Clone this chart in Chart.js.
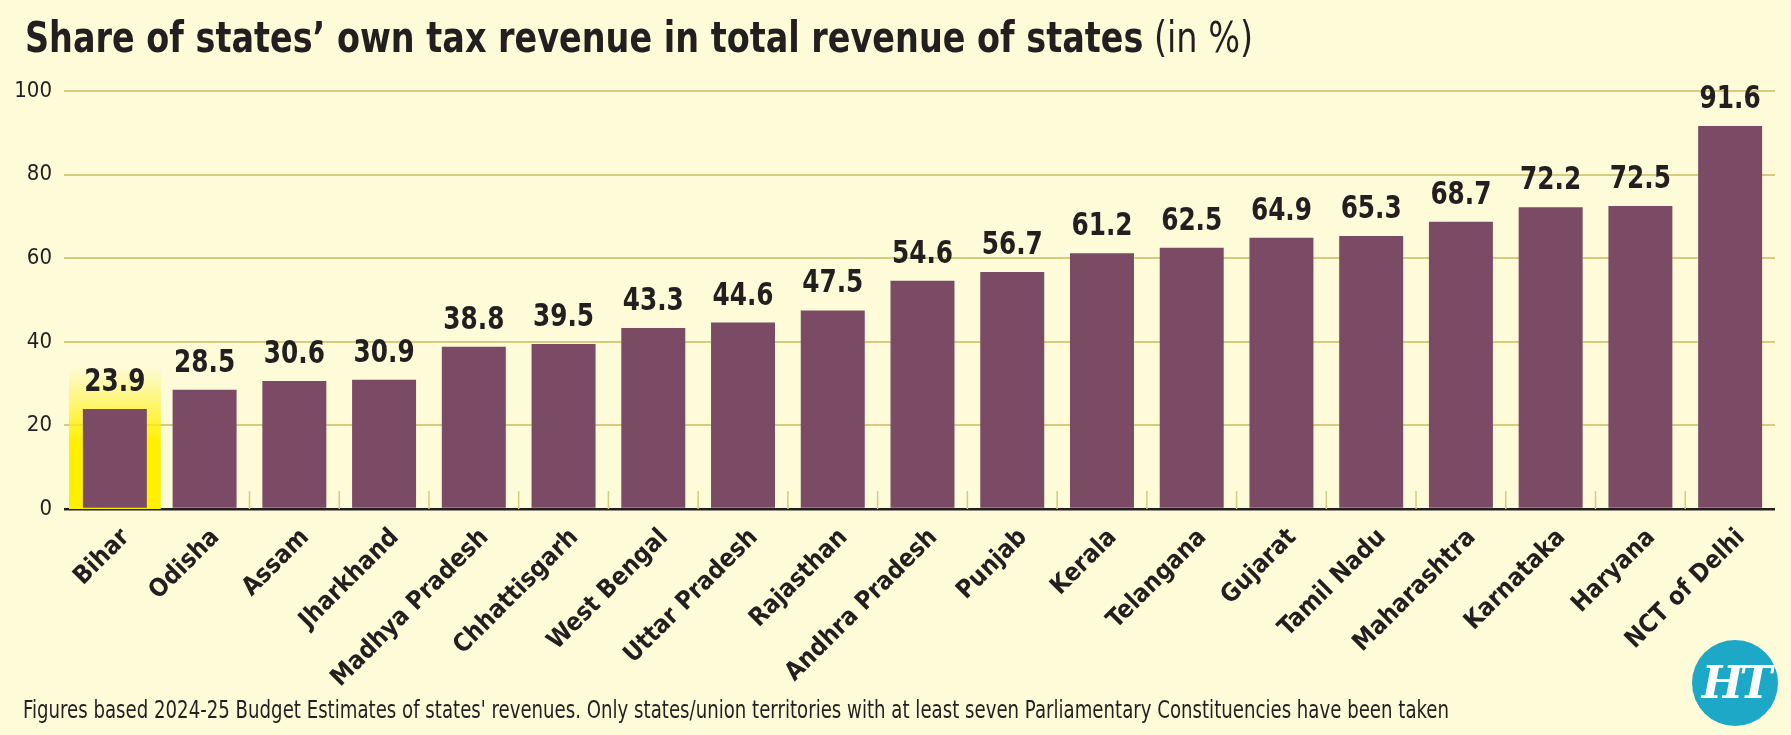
<!DOCTYPE html>
<html>
<head>
<meta charset="utf-8">
<script src="https://cdn.jsdelivr.net/npm/chart.js@4.4.1/dist/chart.umd.min.js"></script>
<style>
  html, body { margin:0; padding:0; background:#FEFBD9; }
  #wrap { position:relative; width:1791px; height:735px; background:#FEFBD9; overflow:hidden; }
  canvas { position:absolute; left:0; top:0; }
  #title { position:absolute; left:25px; top:17px; font-family:"DejaVu Sans Condensed","DejaVu Sans",sans-serif; font-size:42px; line-height:42px; color:#231F20; white-space:nowrap; transform-origin:0 0; }
  #title b { font-weight:bold; }
  #title span { font-weight:normal; }
  #foot { position:absolute; left:23px; top:697px; font-family:"DejaVu Sans Condensed","DejaVu Sans",sans-serif; font-size:25px; line-height:25px; color:#231F20; white-space:nowrap; transform-origin:0 0; }
  #logo { position:absolute; left:1692px; top:640px; width:86px; height:86px; border-radius:50%; background:#1EA8C8; color:#fff; font-family:"DejaVu Serif",serif; font-weight:bold; font-style:italic; font-size:44px; line-height:86px; text-align:center; letter-spacing:-4px; }
</style>
</head>
<body>
<div id="wrap">
  <canvas id="c" width="1791" height="735"></canvas>
  <div id="title"><b>Share of states’ own tax revenue in total revenue of states</b> <span>(in %)</span></div>
  <div id="foot">Figures based 2024-25 Budget Estimates of states' revenues. Only states/union territories with at least seven Parliamentary Constituencies have been taken</div>
  <div id="logo">HT</div>
</div>
<script>
const states = ["Bihar","Odisha","Assam","Jharkhand","Madhya Pradesh","Chhattisgarh","West Bengal","Uttar Pradesh","Rajasthan","Andhra Pradesh","Punjab","Kerala","Telangana","Gujarat","Tamil Nadu","Maharashtra","Karnataka","Haryana","NCT of Delhi"];
const shares = [23.9,28.5,30.6,30.9,38.8,39.5,43.3,44.6,47.5,54.6,56.7,61.2,62.5,64.9,65.3,68.7,72.2,72.5,91.6];
const yTicks = [0,20,40,60,80,100];
const highlightState = "Bihar";

const BAR = "#7B4B66", GRID = "#D6CB7E", INK = "#231F20", YEL = "255,240,0";
const FONT = '"DejaVu Sans Condensed","DejaVu Sans",sans-serif';

function fitWidth(id, target) {
  const el = document.getElementById(id);
  const w = el.getBoundingClientRect().width;
  if (w > 0) el.style.transform = 'scaleX(' + (target / w) + ')';
}
fitWidth('title', 1228);
fitWidth('foot', 1426);

const decor = {
  id: 'decor',
  beforeDatasetsDraw(chart) {
    const ctx = chart.ctx, xs = chart.scales.x, ys = chart.scales.y;
    const base = ys.getPixelForValue(0);
    const meta = chart.getDatasetMeta(0);
    ctx.save();
    ctx.strokeStyle = GRID; ctx.lineWidth = 1.5;
    for (let i = 1; i < states.length - 1; i++) {
      const bx = (xs.getPixelForValue(i) + xs.getPixelForValue(i + 1)) / 2;
      ctx.beginPath(); ctx.moveTo(bx, base); ctx.lineTo(bx, base - 18); ctx.stroke();
    }
    const hi = states.indexOf(highlightState);
    const cx = xs.getPixelForValue(hi);
    const half = (xs.getPixelForValue(1) - xs.getPixelForValue(0)) / 2 + 1;
    const top = meta.data[hi].y - 42;
    const g = ctx.createLinearGradient(0, top, 0, top + 75);
    g.addColorStop(0, 'rgba(' + YEL + ',0)');
    g.addColorStop(0.4, 'rgba(' + YEL + ',0.4)');
    g.addColorStop(1, 'rgba(' + YEL + ',1)');
    ctx.fillStyle = g;
    ctx.fillRect(cx - half, top, half * 2, base - top);
    ctx.restore();
  },
  afterDatasetsDraw(chart) {
    const ctx = chart.ctx, meta = chart.getDatasetMeta(0);
    meta.data.forEach((bar, i) => {
      ctx.save();
      ctx.fillStyle = INK;
      ctx.font = 'bold 32px ' + FONT;
      ctx.textAlign = 'center';
      ctx.textBaseline = 'alphabetic';
      ctx.translate(bar.x, bar.y - 18);
      ctx.scale(0.86, 1);
      ctx.fillText(shares[i].toFixed(1), 0, 0);
      ctx.restore();
    });
  }
};

new Chart(document.getElementById('c'), {
  type: 'bar',
  data: {
    labels: states,
    datasets: [{ data: shares, backgroundColor: BAR, borderWidth: 0, barPercentage: 0.713, categoryPercentage: 1 }]
  },
  options: {
    responsive: false,
    devicePixelRatio: 1,
    animation: false,
    layout: { padding: { top: 91, right: 16, left: 0, bottom: 0 } },
    plugins: { legend: { display: false }, tooltip: { enabled: false }, title: { display: false } },
    scales: {
      x: {
        grid: { display: false },
        border: { display: false },
        ticks: {
          autoSkip: false, minRotation: 45, maxRotation: 45, padding: 6, labelOffset: 11,
          color: INK, font: { family: FONT, size: 25, weight: 'bold' }
        },
        afterFit(s) { s.height = 735 - 509; }
      },
      y: {
        min: 0, max: 100,
        afterBuildTicks(s) { s.ticks = yTicks.map(v => ({ value: v })); },
        grid: {
          color: c => c.tick && c.tick.value === 0 ? INK : GRID,
          lineWidth: c => c.tick && c.tick.value === 0 ? 2.5 : 2,
          tickLength: 6, drawTicks: true
        },
        border: { display: false },
        ticks: { padding: 12, color: INK, font: { family: FONT, size: 22 } },
        afterFit(s) { s.width = 70; }
      }
    }
  },
  plugins: [decor]
});
</script>
</body>
</html>
